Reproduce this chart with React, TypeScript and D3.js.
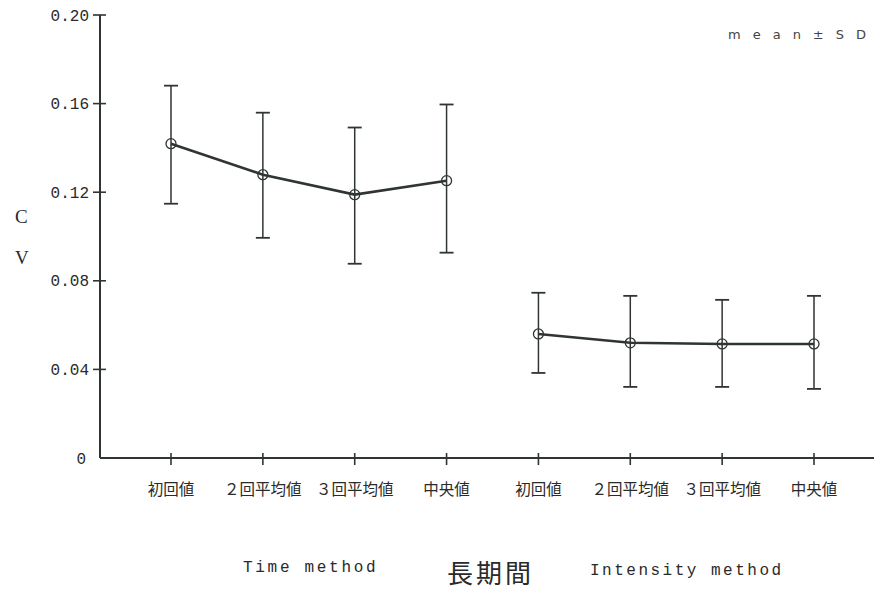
import React from 'react';
import * as d3 from 'd3';

// categories (same labels for both methods)
const categories = ['初回値', '２回平均値', '３回平均値', '中央値'];
const groups = ['Time method', 'Intensity method'];

// mean and SD bounds
const timeMean = [0.1419, 0.1279, 0.1189, 0.1252];
const timeUpper = [0.1681, 0.1559, 0.1492, 0.1596];
const timeLower = [0.1148, 0.0994, 0.0877, 0.0927];

const intMean = [0.056, 0.052, 0.0515, 0.0515];
const intUpper = [0.0746, 0.0732, 0.0714, 0.0732];
const intLower = [0.0384, 0.0321, 0.0321, 0.0312];

const yTicks = [0, 0.04, 0.08, 0.12, 0.16, 0.2];

const W = 874;
const H = 591;
const ink = '#2f3530';

export default function App() {
  const x = d3.scaleLinear().domain([0, 7]).range([171, 814]);
  const y = d3.scaleLinear().domain([0, 0.2]).range([458, 15]);

  const series = [
    { mean: timeMean, upper: timeUpper, lower: timeLower, offset: 0 },
    { mean: intMean, upper: intUpper, lower: intLower, offset: 4 },
  ];

  const line = d3
    .line<number>()
    .x((_, i) => x(i))
    .y((d) => y(d));

  const fmt = (v: number) => (v === 0 ? '0' : d3.format('.2f')(v));

  return (
    <svg
      width={W}
      height={H}
      style={{ position: 'absolute', left: 0, top: 0, background: '#fff' }}
    >
      {/* y axis */}
      <line x1={100} x2={100} y1={y(0.2)} y2={y(0)} stroke={ink} strokeWidth={2} />
      {yTicks.map((t) => (
        <g key={t}>
          {t > 0 && (
            <line x1={93} x2={106} y1={y(t)} y2={y(t)} stroke={ink} strokeWidth={1.6} />
          )}
          <text
            x={t === 0 ? 86 : 89}
            y={y(t)}
            dy="0.35em"
            textAnchor="end"
            fontFamily="Liberation Mono, DejaVu Sans Mono, monospace"
            fontSize={16}
            fill="#2a2a2a"
          >
            {fmt(t)}
          </text>
        </g>
      ))}

      {/* x axis */}
      <line x1={100} x2={W} y1={y(0)} y2={y(0)} stroke={ink} strokeWidth={2} />
      {d3.range(8).map((i) => (
        <g key={i}>
          <line x1={x(i)} x2={x(i)} y1={y(0) - 5} y2={y(0) + 7} stroke={ink} strokeWidth={1.6} />
          <text
            x={x(i)}
            y={490}
            dy="0.35em"
            textAnchor="middle"
            fontFamily="Noto Sans CJK JP, sans-serif"
            fontSize={15.5}
            fill="#2a2a2a"
          >
            {categories[i % 4]}
          </text>
        </g>
      ))}

      {/* error bars and lines */}
      {series.map((s, si) => (
        <g key={si}>
          {s.mean.map((m, i) => {
            const cx = x(i + s.offset);
            return (
              <g key={i}>
                <line x1={cx} x2={cx} y1={y(s.upper[i])} y2={y(s.lower[i])} stroke={ink} strokeWidth={1.5} />
                <line x1={cx - 7} x2={cx + 7} y1={y(s.upper[i])} y2={y(s.upper[i])} stroke={ink} strokeWidth={1.8} />
                <line x1={cx - 7} x2={cx + 7} y1={y(s.lower[i])} y2={y(s.lower[i])} stroke={ink} strokeWidth={1.8} />
              </g>
            );
          })}
          <path
            d={line(s.mean) || ''}
            transform={`translate(${x(s.offset) - x(0)},0)`}
            fill="none"
            stroke={ink}
            strokeWidth={2.6}
          />
          {s.mean.map((m, i) => (
            <circle
              key={i}
              cx={x(i + s.offset)}
              cy={y(m)}
              r={5}
              fill="none"
              stroke={ink}
              strokeWidth={1.3}
            />
          ))}
        </g>
      ))}

      {/* axis title */}
      <text x={15} y={216} dy="0.35em" fontFamily="Liberation Serif, serif" fontSize={19} fill="#2a2a2a">
        C
      </text>
      <text x={15} y={257} dy="0.35em" fontFamily="Liberation Serif, serif" fontSize={19} fill="#2a2a2a">
        V
      </text>

      {/* legend note */}
      <text
        x={728}
        y={34}
        dy="0.35em"
        fontFamily="DejaVu Sans, sans-serif"
        fontSize={13}
        fill="#444"
      >
        <tspan letterSpacing={12}>mean±S</tspan>
        <tspan>D</tspan>
      </text>

      {/* group labels */}
      <text
        x={243}
        y={566}
        dy="0.35em"
        fontFamily="Liberation Mono, monospace"
        fontSize={16}
        letterSpacing={2.7}
        fill="#2a2a2a"
      >
        {groups[0]}
      </text>
      <text
        x={590}
        y={569}
        dy="0.35em"
        fontFamily="Liberation Mono, monospace"
        fontSize={16}
        letterSpacing={2.5}
        fill="#2a2a2a"
      >
        {groups[1]}
      </text>
      <text
        x={447}
        y={574}
        dy="0.35em"
        fontFamily="Noto Sans CJK JP, sans-serif"
        fontSize={26}
        letterSpacing={3}
        fill="#2a2a2a"
      >
        長期間
      </text>
    </svg>
  );
}
